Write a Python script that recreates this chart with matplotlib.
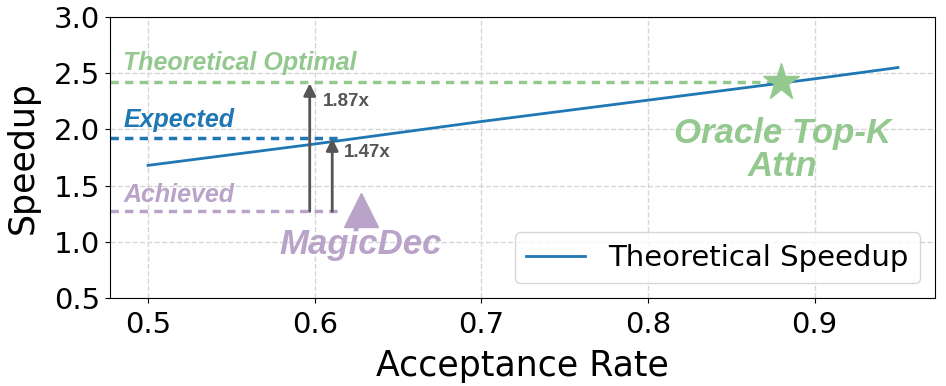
import numpy as np
import matplotlib.pyplot as plt

# theoretical speedup curve
acc_rate = [0.5, 0.6, 0.7, 0.8, 0.9, 0.95]
speedup = [1.68, 1.87, 2.07, 2.26, 2.45, 2.55]

optimal_y = 2.42
expected_y = 1.92
achieved_y = 1.27

oracle_pt = (0.88, 2.42)
magicdec_pt = (0.6275, 1.28)

green = '#93c88f'
purple = '#b9a3c9'
blue = '#1f77b4'
grey = '#555555'

fig, ax = plt.subplots(figsize=(9.46, 3.86), dpi=100)

ax.plot(acc_rate, speedup, color=blue, lw=2, label='Theoretical Speedup', zorder=3)

xmin = 0.477
dash = (2.4, 1.8)
ax.plot([xmin, 0.875], [optimal_y, optimal_y], ls='--', dashes=dash, color=green, lw=2.5, zorder=2)
ax.plot([xmin, 0.617], [expected_y, expected_y], ls='--', dashes=dash, color=blue, lw=2.5, zorder=2)
ax.plot([xmin, 0.617], [achieved_y, achieved_y], ls='--', dashes=dash, color=purple, lw=2.5, zorder=2)

ax.plot(*oracle_pt, marker='*', ms=28, color=green, zorder=4)
ax.plot(*magicdec_pt, marker='^', ms=24, color=purple, zorder=4)

# arrows
arr = dict(arrowstyle='-|>', color=grey, lw=2, mutation_scale=18, shrinkA=0, shrinkB=0)
ax.annotate('', xy=(0.597, 2.41), xytext=(0.597, achieved_y), arrowprops=arr)
ax.annotate('', xy=(0.6105, expected_y), xytext=(0.6105, achieved_y), arrowprops=arr)
ax.text(0.6048, 2.244, '1.87x', fontsize=13.5, fontweight='bold', color=grey,
        family='Liberation Sans', va='center')
ax.text(0.6174, 1.79, '1.47x', fontsize=13.5, fontweight='bold', color=grey,
        family='Liberation Sans', va='center')

lab = dict(fontweight='bold', style='italic', family='Liberation Sans')
ax.text(0.485, 2.59, 'Theoretical Optimal', fontsize=18, color=green, va='center', **lab)
ax.text(0.485, 2.08, 'Expected', fontsize=18, color=blue, va='center', **lab)
ax.text(0.485, 1.42, 'Achieved', fontsize=18, color=purple, va='center', **lab)
ax.text(0.6275, 0.98, 'MagicDec', fontsize=25, color=purple, ha='center', va='center', **lab)
ax.text(0.881, 1.82, 'Oracle Top-K\nAttn', fontsize=25, color=green, ha='center', va='center',
        linespacing=1.0, **lab)

ax.set_xlim(xmin, 0.972)
ax.set_ylim(0.5, 3.0)
ax.set_xticks([0.5, 0.6, 0.7, 0.8, 0.9])
ax.set_yticks([0.5, 1.0, 1.5, 2.0, 2.5, 3.0])
ax.tick_params(labelsize=21)
ax.tick_params(axis='x', pad=6)
ax.set_xlabel('Acceptance Rate', fontsize=25, labelpad=7)
ax.set_ylabel('Speedup', fontsize=25, labelpad=10)
ax.grid(True, ls='--', color='#d6d6d6', lw=1)
ax.legend(loc='lower right', fontsize=21)

plt.subplots_adjust(left=0.116, right=0.988, top=0.956, bottom=0.228)
plt.savefig('out.png', dpi=100)
